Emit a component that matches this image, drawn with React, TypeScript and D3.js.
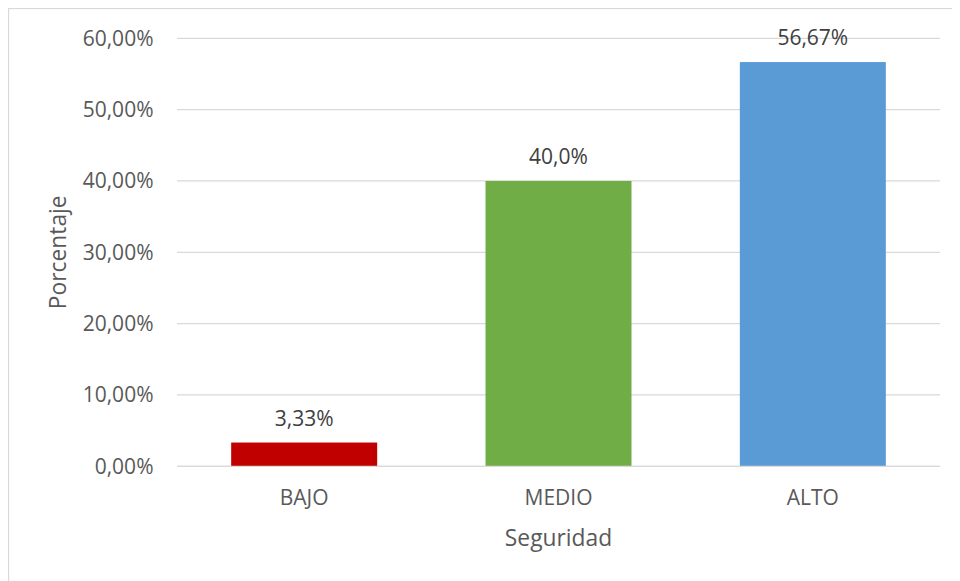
import React from "react";
import * as d3 from "d3";

const categories = ["BAJO", "MEDIO", "ALTO"];
const values = [3.33, 40.0, 56.67];
const valueLabels = ["3,33%", "40,0%", "56,67%"];
const barColors = ["#C00000", "#70AD47", "#5B9BD5"];
const yTicks = [0, 10, 20, 30, 40, 50, 60];
const xTitle = "Seguridad";
const yTitle = "Porcentaje";

const FONT = "'Open Sans', 'Noto Sans', sans-serif";

export default function App() {
  const W = 960;
  const H = 581;
  const plot = { left: 177, right: 940, top: 38.3, bottom: 466.3 };

  const x = d3
    .scaleBand<string>()
    .domain(categories)
    .range([plot.left, plot.right])
    .paddingInner(0.426)
    .paddingOuter(0.213);
  const y = d3.scaleLinear().domain([0, 60]).range([plot.bottom, plot.top]);
  const fmt = (v: number) => d3.format(".2f")(v).replace(".", ",") + "%";

  return (
    <svg
      width={W - 8}
      height={H - 8}
      style={{ display: "block", overflow: "hidden" }}
    >
      <g transform="translate(-8,-8)">
        <rect x={0} y={0} width={W} height={H} fill="#ffffff" />
        <rect
          x={8.5}
          y={8.5}
          width={W + 20}
          height={H + 20}
          fill="none"
          stroke="#D9D9D9"
          strokeWidth={1.3}
        />
        {yTicks.map((t) => (
          <g key={t}>
            <line
              x1={plot.left}
              x2={plot.right}
              y1={y(t)}
              y2={y(t)}
              stroke="#D9D9D9"
              strokeWidth={1.3}
            />
            <text
              x={153.5}
              y={y(t)}
              dy="0.35em"
              textAnchor="end"
              fontFamily={FONT}
              fontSize={21}
              fill="#595959"
            >
              {fmt(t)}
            </text>
          </g>
        ))}
        {categories.map((c, i) => (
          <g key={c}>
            <rect
              x={x(c)}
              y={y(values[i])}
              width={x.bandwidth()}
              height={y(0) - y(values[i])}
              fill={barColors[i]}
            />
            <text
              x={(x(c) as number) + x.bandwidth() / 2}
              y={y(values[i]) - 24}
              dy="0.35em"
              textAnchor="middle"
              fontFamily={FONT}
              fontSize={21}
              fill="#404040"
            >
              {valueLabels[i]}
            </text>
            <text
              x={(x(c) as number) + x.bandwidth() / 2}
              y={498}
              dy="0.35em"
              textAnchor="middle"
              fontFamily={FONT}
              fontSize={21}
              fill="#595959"
            >
              {c}
            </text>
          </g>
        ))}
        <line
          x1={plot.left}
          x2={plot.right}
          y1={y(0)}
          y2={y(0)}
          stroke="#D9D9D9"
          strokeWidth={1.3}
        />
        <text
          x={(plot.left + plot.right) / 2}
          y={538}
          dy="0.35em"
          textAnchor="middle"
          fontFamily={FONT}
          fontSize={22.8}
          fill="#595959"
        >
          {xTitle}
        </text>
        <text
          transform={`translate(58,${(plot.top + plot.bottom) / 2}) rotate(-90)`}
          dy="0.35em"
          textAnchor="middle"
          fontFamily={FONT}
          fontSize={22.8}
          fill="#595959"
        >
          {yTitle}
        </text>
      </g>
    </svg>
  );
}
